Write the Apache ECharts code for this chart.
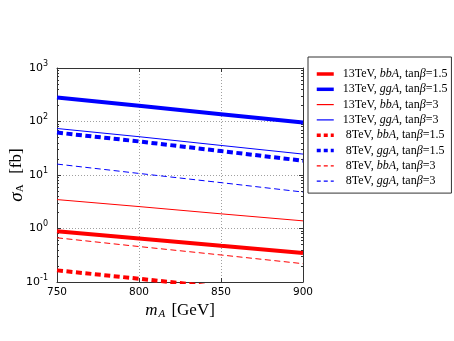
<!DOCTYPE html>
<html>
<head>
<meta charset="utf-8">
<script src="https://cdn.jsdelivr.net/npm/echarts@6/dist/echarts.min.js"></script>
<style>
  html, body { margin: 0; padding: 0; background: #fff; }
  #chart { width: 454px; height: 341px; }
</style>
</head>
<body>
<div id="chart"></div>
<script>
// m_A sample points (GeV)
var massPoints = [750, 800, 850, 900];

// cross sections in fb
var bbA13_tb15 = [0.89, 0.65, 0.475, 0.35];
var ggA13_tb15 = [280, 196, 137, 96];
var bbA13_tb3 = [3.47, 2.57, 1.88, 1.39];
var ggA13_tb3 = [74, 52, 35.7, 24.6];
var bbA8_tb15 = [0.165, 0.115, 0.079, 0.056];
var ggA8_tb15 = [62, 42.4, 28, 18.5];
var bbA8_tb3 = [0.67, 0.46, 0.32, 0.22];
var ggA8_tb3 = [16, 10.7, 7.2, 4.8];

var xTicks = [750, 800, 850, 900];
var yMinorTicks = [];
[0.1, 1, 10, 100].forEach(function (d) {
    for (var k = 2; k <= 9; k++) yMinorTicks.push(d * k);
});

var serif = 'Liberation Serif';

function pairs(ys) {
    return massPoints.map(function (m, i) { return [m, ys[i]]; });
}

// name, data, colour, width, dashed, legend text
var lines = [
    ['a', bbA13_tb15, '#ff0000', 4, false, '13TeV, {i|bbA}, tan{i|β}=1.5'],
    ['b', ggA13_tb15, '#0000ff', 4, false, '13TeV, {i|ggA}, tan{i|β}=1.5'],
    ['c', bbA13_tb3, '#ff0000', 1, false, '13TeV, {i|bbA}, tan{i|β}=3'],
    ['d', ggA13_tb3, '#0000ff', 1, false, '13TeV, {i|ggA}, tan{i|β}=3'],
    ['e', bbA8_tb15, '#ff0000', 4, true, ' 8TeV, {i|bbA}, tan{i|β}=1.5'],
    ['f', ggA8_tb15, '#0000ff', 4, true, ' 8TeV, {i|ggA}, tan{i|β}=1.5'],
    ['g', bbA8_tb3, '#ff0000', 1, true, ' 8TeV, {i|bbA}, tan{i|β}=3'],
    ['h', ggA8_tb3, '#0000ff', 1, true, ' 8TeV, {i|ggA}, tan{i|β}=3']
];
var legendText = {};
lines.forEach(function (l) { legendText[l[0]] = l[5]; });

var series = lines.map(function (l) {
    return {
        name: l[0],
        type: 'line',
        data: pairs(l[1]),
        symbol: 'none',
        clip: true,
        lineStyle: { color: l[2], width: l[3], type: l[4] ? [6, 3.5] : 'solid' },
        itemStyle: { color: l[2] }
    };
});

function logLabel(v) {
    var e = Math.round(Math.log10(v));
    return '{b|10}{s|' + e + '}';
}

var frame = { show: true, lineStyle: { color: '#333', width: 1 } };

var chart = echarts.init(document.getElementById('chart'));
chart.setOption({
    animation: false,
    grid: { left: 57, right: 151, top: 68, bottom: 59, outerBoundsMode: 'none' },
    legend: {
        orient: 'vertical',
        left: 308,
        top: 57,
        itemWidth: 17,
        itemHeight: 10,
        itemGap: 3.3,
        padding: [11, 4, 6, 7],
        backgroundColor: '#fff',
        borderColor: '#333',
        borderWidth: 1,
        borderRadius: 0,
        itemStyle: { opacity: 0 },
        lineStyle: { width: 'inherit' },
        data: lines.map(function (l) {
            return {
                name: l[0],
                lineStyle: { width: l[3] === 4 ? 3.5 : 1.2, type: l[4] ? [4, 3] : 'solid' }
            };
        }),
        formatter: function (n) { return legendText[n]; },
        textStyle: {
            fontFamily: serif, fontSize: 12, color: '#000',
            padding: [0, 0, 0, 4],
            rich: { i: { fontFamily: serif, fontSize: 12, fontStyle: 'italic' } }
        }
    },
    xAxis: [{
        type: 'value',
        min: 750, max: 900, interval: 50,
        name: '{i|m}{s|A} [GeV]',
        nameLocation: 'middle',
        nameGap: 19,
        nameMoveOverlap: false,
        nameTextStyle: {
            fontFamily: serif, fontSize: 17, color: '#000',
            rich: {
                i: { fontFamily: serif, fontSize: 17, fontStyle: 'italic' },
                s: { fontFamily: serif, fontSize: 11, fontStyle: 'italic', padding: [8, 2, 0, 1] }
            }
        },
        axisLine: frame,
        axisTick: { inside: true, length: 4, lineStyle: { color: '#333' } },
        axisLabel: { margin: 5, fontFamily: 'DejaVu Sans', fontSize: 10.5, color: '#000' },
        splitLine: { show: true, lineStyle: { color: '#888', type: [1, 2], width: 0.8 } }
    }, {
        type: 'value',
        position: 'top',
        min: 750, max: 900, interval: 50,
        axisLine: frame,
        axisTick: { inside: true, length: 4, lineStyle: { color: '#333' } },
        axisLabel: { show: false },
        splitLine: { show: false }
    }],
    yAxis: [{
        type: 'log',
        logBase: 10,
        min: 0.1, max: 1000,
        name: '{i|σ}{s|A}  [fb]',
        nameLocation: 'middle',
        nameRotate: 90,
        nameGap: 31,
        nameMoveOverlap: false,
        nameTextStyle: {
            fontFamily: serif, fontSize: 17, color: '#000',
            rich: {
                i: { fontFamily: serif, fontSize: 19, fontStyle: 'italic' },
                s: { fontFamily: serif, fontSize: 11, padding: [8, 2, 0, 0] }
            }
        },
        axisLine: frame,
        axisTick: { inside: true, length: 4, lineStyle: { color: '#333' } },
        axisLabel: {
            margin: 9,
            formatter: logLabel,
            rich: {
                b: { fontFamily: 'DejaVu Sans', fontSize: 11, color: '#000' },
                s: { fontFamily: 'DejaVu Sans', fontSize: 8, color: '#000', padding: [0, 0, 9, 0] }
            }
        },
        splitLine: { show: true, lineStyle: { color: '#888', type: [1, 2], width: 0.8 } }
    }, {
        type: 'log',
        logBase: 10,
        position: 'left',
        min: 0.1, max: 1000,
        axisLine: { show: false },
        axisTick: { inside: true, length: 2, customValues: yMinorTicks, lineStyle: { color: '#333' } },
        axisLabel: { show: false },
        splitLine: { show: false }
    }, {
        type: 'log',
        logBase: 10,
        position: 'right',
        min: 0.1, max: 1000,
        axisLine: frame,
        axisTick: { inside: true, length: 4, lineStyle: { color: '#333' } },
        axisLabel: { show: false },
        splitLine: { show: false }
    }, {
        type: 'log',
        logBase: 10,
        position: 'right',
        min: 0.1, max: 1000,
        axisLine: { show: false },
        axisTick: { inside: true, length: 2, customValues: yMinorTicks, lineStyle: { color: '#333' } },
        axisLabel: { show: false },
        splitLine: { show: false }
    }],
    series: series
});
</script>
</body>
</html>
